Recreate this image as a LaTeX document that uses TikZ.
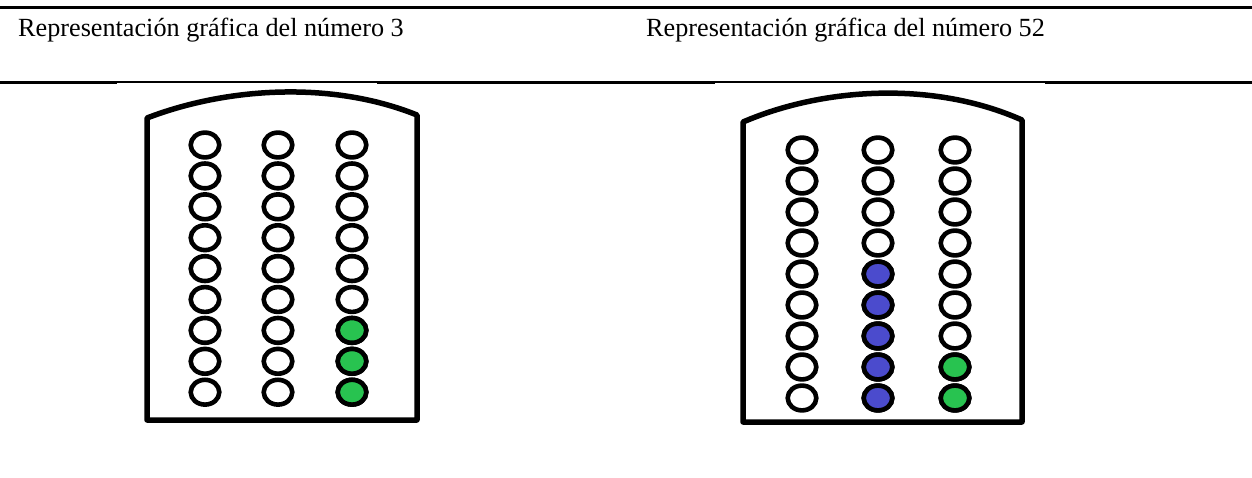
\documentclass[tikz,border=0pt]{standalone}
\usepackage{fontspec}
\setmainfont{Liberation Serif}
\definecolor{beadgreen}{RGB}{40,195,80}
\definecolor{beadblue}{RGB}{75,75,205}
\tikzset{
  rule/.style={line width=2.2pt,black},
  thinrule/.style={line width=1.2pt,black},
  card/.style={line width=5.5pt,black,line join=round,fill=white},
  bead/.style={line width=4.6pt,black,fill=white},
  title/.style={anchor=base west,inner sep=0pt,font=\fontsize{26.2}{30}\selectfont},
}
\begin{document}
\begin{tikzpicture}[x=1pt,y=-1pt]
\useasboundingbox (0,0) rectangle (1252,477);
\fill[white] (0,0) rectangle (1252,477);
% table rules
\draw[rule] (0,7.5) -- (1252,7.5);
\draw[rule] (0,82.5) -- (117,82.5);
\draw[thinrule] (117,82) -- (377,82);
\draw[rule] (377,82.5) -- (715,82.5);
\draw[thinrule] (715,82) -- (1045,82);
\draw[rule] (1045,82.5) -- (1252,82.5);
% titles
\node[title] (t1) at (18,36) {Representación gráfica del número 3};
\node[title] (t2) at (646,36) {Representación gráfica del número 52};
% left card
\draw[card] (147,420) -- (147,118) .. controls (225,88) and (330,80) .. (417,115) -- (417,420) -- cycle;
\foreach \c/\x in {1/205,2/278,3/352}{
  \foreach \r in {0,...,8}{
    \draw[bead] (\x,{145+\r*30.9}) ellipse [x radius=14.3, y radius=12.4];
  }
}
\foreach \r in {6,7,8}{
  \draw[bead,fill=beadgreen] (352,{145+\r*30.9}) ellipse [x radius=14.3, y radius=12.4];
}
% right card
\draw[card] (743,422) -- (743,122) .. controls (822,88) and (932,80) .. (1022,120) -- (1022,422) -- cycle;
\foreach \c/\x in {1/802,2/878,3/955}{
  \foreach \r in {0,...,8}{
    \draw[bead] (\x,{150+\r*31}) ellipse [x radius=14.3, y radius=12.4];
  }
}
\foreach \r in {4,...,8}{
  \draw[bead,fill=beadblue] (878,{150+\r*31}) ellipse [x radius=14.3, y radius=12.4];
}
\foreach \r in {7,8}{
  \draw[bead,fill=beadgreen] (955,{150+\r*31}) ellipse [x radius=14.3, y radius=12.4];
}
\end{tikzpicture}
\end{document}
